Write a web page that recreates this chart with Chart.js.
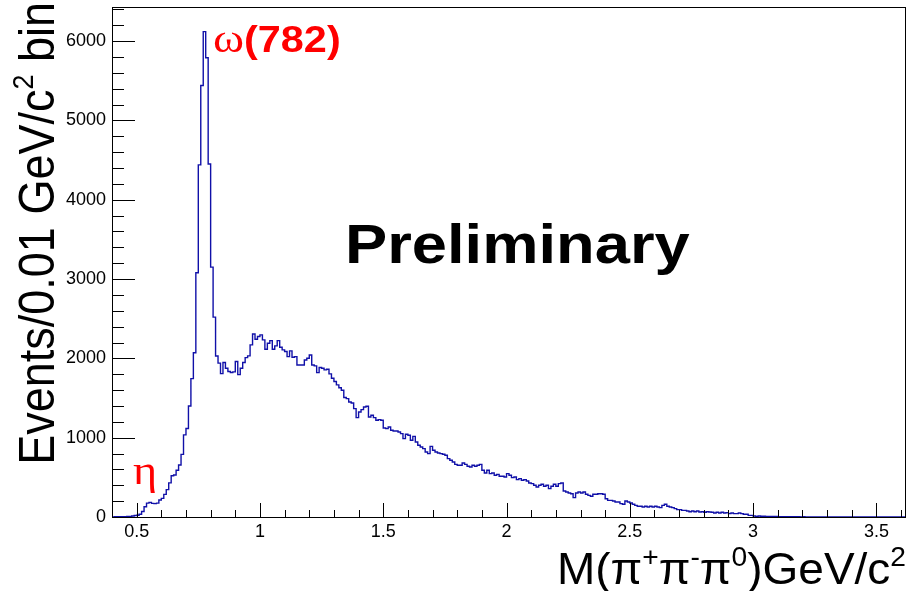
<!DOCTYPE html>
<html>
<head>
<meta charset="utf-8">
<script src="https://cdn.jsdelivr.net/npm/chart.js@4.4.1/dist/chart.umd.min.js"></script>
<style>
  html, body { margin: 0; padding: 0; background: #fff; }
  #wrap { width: 909px; height: 591px; }
</style>
</head>
<body>
<div id="wrap"><canvas id="massChart" width="909" height="591"></canvas></div>
<script>
// histogram: M(pi+ pi- pi0), 0.01 GeV bins starting at 0.40
const binStart = 0.4;
const binWidth = 0.01;
const xMin = 0.4;
const xMax = 3.62;
const yMax = 6430;

// bin contents (events per bin)
const countsLow = [
  2, 3, 3, 4, 4, 5, 6, 8, 12, 18,
  22, 35, 70, 130, 175, 185, 172, 168, 175, 215,
  235, 285, 345, 430, 520, 530, 590, 655, 790, 1035,
  1115, 1400, 1745, 2070, 3080, 4440, 5440, 6120, 5790, 4450,
  3150, 2520, 2030, 1940
];
const countsMid = [
  1808, 1947, 1876, 1834, 1822, 1830, 1960, 1795, 1876, 1947,
  2010, 2031, 2170, 2308, 2241, 2275, 2296, 2233, 2115, 2190,
  2224, 2115, 2157, 2224, 2140, 2107, 2086, 2022, 2094, 2014,
  2022, 1917, 1917, 1917, 1980, 2001, 2043, 1917, 1905, 1820,
  1884, 1876, 1855, 1863, 1804, 1750, 1708, 1666, 1630, 1598,
  1506, 1492, 1450, 1438, 1366, 1253, 1324, 1354, 1387, 1396,
  1261, 1282, 1253, 1219, 1228, 1219, 1122, 1114, 1135, 1093,
  1085, 1085, 1072, 1051, 988, 1043, 1030, 967, 1017, 946,
  904, 883, 862, 820, 799, 891, 841, 820, 807, 799,
  791, 778, 736, 715, 694, 664, 652, 652, 681, 664,
  639, 631, 652, 639, 652, 664, 589, 555, 589, 547,
  555, 526, 538, 513, 513, 505, 547, 526, 496
];
const countsHigh = [
  505, 471, 484, 463, 471, 454, 429, 421, 400, 379,
  400, 412, 387, 400, 358, 387, 412, 387, 421, 429,
  328, 316, 303, 294, 244, 303, 316, 303, 316, 286,
  273, 261, 286, 286, 294, 294, 286, 231, 210, 210,
  202, 189, 189, 168, 160, 202, 189, 177, 160, 147,
  135, 135, 126, 135, 126, 135, 126, 135, 126, 118,
  147, 160, 135, 126, 118, 105, 93, 93, 84, 84,
  76, 67, 76, 67, 76, 63, 67, 59, 67, 63,
  59, 50, 59, 50, 59, 50, 55, 42, 50, 42,
  42, 50, 42, 34, 34, 21, 21, 13, 8
];
const countsTail = [
  12, 10, 9, 8, 8, 7, 6, 6, 5, 5,
  4, 4, 4, 3, 3, 3, 3, 2, 3, 2,
  2, 2, 2, 2, 1, 2, 1, 1, 2, 1,
  1, 1, 1, 1, 1, 0, 1, 0, 0, 1,
  0, 0, 0, 0, 0, 0, 0, 0, 0, 0,
  0, 0, 0, 0, 0, 0, 0, 0, 0, 0
];
const counts = countsLow.concat(countsMid, countsHigh, countsTail);

const xTickValues = [0.5, 1, 1.5, 2, 2.5, 3, 3.5];
const yTickValues = [0, 1000, 2000, 3000, 4000, 5000, 6000];

const sansFont = '"Liberation Sans", Arial, Helvetica, sans-serif';
const serifFont = '"Liberation Serif", "Times New Roman", serif';

// step points at bin low edges, plus closing point at the upper edge
const histPoints = counts.map((c, i) => ({ x: binStart + i * binWidth, y: c }));
histPoints.push({ x: binStart + counts.length * binWidth, y: counts[counts.length - 1] });

// pieces: {text, font, rise}
function drawPieces(ctx, pieces, opts) {
  ctx.save();
  ctx.translate(opts.x, opts.y);
  if (opts.rotate) ctx.rotate(opts.rotate);
  ctx.scale(opts.sx || 1, opts.sy || 1);
  let total = 0;
  pieces.forEach(p => { ctx.font = p.font; total += ctx.measureText(p.text).width; });
  let cx = opts.align === 'right' ? -total : 0;
  ctx.fillStyle = opts.color || '#000';
  ctx.textBaseline = 'alphabetic';
  ctx.textAlign = 'left';
  pieces.forEach(p => {
    ctx.font = p.font;
    ctx.fillText(p.text, cx, p.rise ? -p.rise : 0);
    cx += ctx.measureText(p.text).width;
  });
  ctx.restore();
}

const rootFrame = {
  id: 'rootFrame',
  afterDraw(chart) {
    const ctx = chart.ctx;
    const a = chart.chartArea;
    const xs = chart.scales.x;
    const ys = chart.scales.y;
    ctx.save();
    ctx.strokeStyle = '#000';
    ctx.lineWidth = 1;
    ctx.strokeRect(a.left + 0.5, a.top + 0.5, a.right - a.left - 1, a.bottom - a.top);

    // y ticks: every 200, major every 1000, drawn inward
    ctx.beginPath();
    for (let v = 0; v <= yMax; v += 200) {
      const py = Math.round(ys.getPixelForValue(v)) + 0.5;
      const len = v % 1000 === 0 ? 23 : 12;
      ctx.moveTo(a.left, py);
      ctx.lineTo(a.left + len, py);
    }
    // x ticks: every 0.1, major every 0.5
    for (let k = 4; k <= 36; k++) {
      const px = Math.round(xs.getPixelForValue(k / 10)) + 0.5;
      const len = k % 5 === 0 ? 14 : 7;
      ctx.moveTo(px, a.bottom);
      ctx.lineTo(px, a.bottom - len);
    }
    ctx.stroke();
    ctx.restore();

    // axis titles
    const tf = '44px ' + sansFont;
    const sf = '27px ' + sansFont;
    drawPieces(ctx, [
      { text: 'M(\u03c0', font: tf },
      { text: '+', font: sf, rise: 18 },
      { text: '\u03c0', font: tf },
      { text: '-', font: sf, rise: 18 },
      { text: '\u03c0', font: tf },
      { text: '0', font: sf, rise: 18 },
      { text: ')GeV/c', font: tf },
      { text: '2', font: sf, rise: 18 }
    ], { x: 906, y: 584, align: 'right', sx: 1.045 });

    drawPieces(ctx, [
      { text: 'Events/0.01 GeV/c', font: '45px ' + sansFont },
      { text: '2', font: sf, rise: 19 },
      { text: ' bin', font: '45px ' + sansFont }
    ], { x: 54, y: 2, rotate: -Math.PI / 2, align: 'right', sy: 1.1 });

    // annotations
    drawPieces(ctx, [{ text: 'Preliminary', font: 'bold 56px ' + sansFont }],
      { x: 345, y: 263, sx: 1.13 });
    drawPieces(ctx, [
      { text: '\u03c9', font: '41px ' + serifFont },
      { text: '(782)', font: 'bold 36px ' + sansFont }
    ], { x: 213, y: 52, sx: 1.15, color: '#ff0000' });
    drawPieces(ctx, [{ text: '\u03b7', font: '42px ' + serifFont }],
      { x: 133, y: 484, sx: 1.1, color: '#ff0000' });
  }
};

new Chart(document.getElementById('massChart').getContext('2d'), {
  type: 'line',
  data: {
    datasets: [{
      data: histPoints,
      stepped: 'before',
      borderColor: '#1010a8',
      borderWidth: 1.4,
      pointRadius: 0,
      fill: false,
      tension: 0
    }]
  },
  options: {
    responsive: false,
    animation: false,
    devicePixelRatio: 1,
    layout: { padding: { top: 7, right: 3, left: 0, bottom: 0 } },
    plugins: { legend: { display: false }, tooltip: { enabled: false } },
    scales: {
      x: {
        type: 'linear',
        min: xMin,
        max: xMax,
        afterBuildTicks: s => { s.ticks = xTickValues.map(v => ({ value: v })); },
        afterFit: s => { s.height = 74; s.paddingLeft = 0; s.paddingRight = 0; },
        ticks: {
          callback: v => String(v),
          color: '#000',
          font: { size: 18, family: sansFont },
          padding: 4,
          maxRotation: 0,
          autoSkip: false
        },
        grid: { display: false, drawTicks: false },
        border: { display: false }
      },
      y: {
        min: 0,
        max: yMax,
        afterBuildTicks: s => { s.ticks = yTickValues.map(v => ({ value: v })); },
        afterFit: s => { s.width = 112; s.paddingTop = 0; s.paddingBottom = 0; },
        ticks: {
          callback: v => String(v),
          color: '#000',
          font: { size: 18, family: sansFont },
          padding: 6,
          autoSkip: false
        },
        grid: { display: false, drawTicks: false },
        border: { display: false }
      }
    }
  },
  plugins: [rootFrame]
});
</script>
</body>
</html>
